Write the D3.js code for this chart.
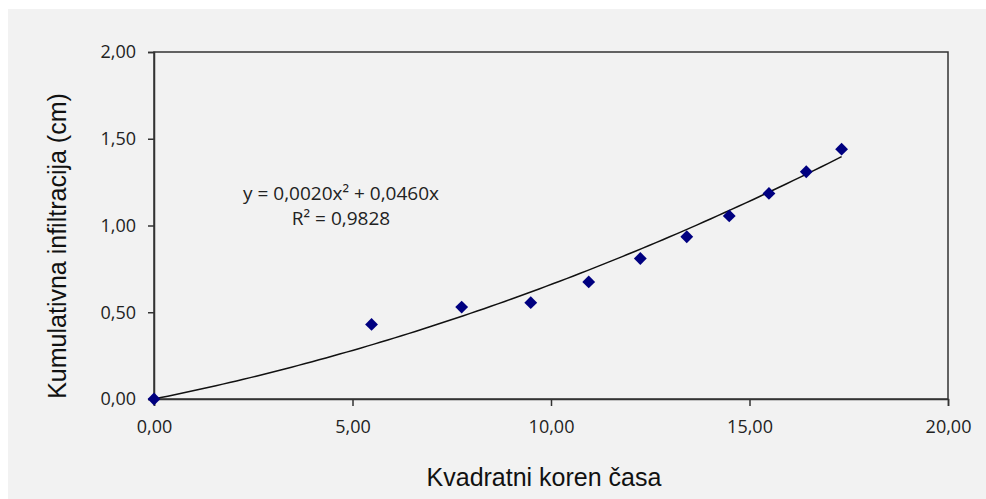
<!DOCTYPE html>
<html>
<head>
<meta charset="utf-8">
<script src="https://cdn.jsdelivr.net/npm/d3@7"></script>
<style>
  body { margin: 0; background: #fff; }
  svg { display: block; }
</style>
</head>
<body>
<div id="chart"></div>
<script>
// podaci (ocitani sa slike)
const xValues = [0, 5.48, 7.75, 9.49, 10.95, 12.25, 13.42, 14.49, 15.49, 16.43, 17.32];
const yValues = [0, 0.43, 0.53, 0.555, 0.675, 0.81, 0.935, 1.055, 1.185, 1.31, 1.44];
const trendCoef = [0.0020, 0.0460]; // y = a*x^2 + b*x
const xTicks = [0, 5, 10, 15, 20];
const yTicks = [0, 0.5, 1, 1.5, 2];
const eqLines = ["y = 0,0020x² + 0,0460x", "R² = 0,9828"];

const W = 986, H = 499;
const margin = { top: 52, right: 38, bottom: 100, left: 154 },
      width = W - margin.left - margin.right,
      height = H - margin.top - margin.bottom;

const root = d3.select("#chart").append("svg")
  .attr("width", W)
  .attr("height", H);

// siva pozadina
root.append("rect")
  .attr("x", 8).attr("y", 9)
  .attr("width", W - 8).attr("height", H - 9)
  .attr("fill", "#f2f2f2");

const svg = root.append("g")
  .attr("transform", `translate(${margin.left},${margin.top})`);

const x = d3.scaleLinear().domain([0, 20]).range([0, width]);
const y = d3.scaleLinear().domain([0, 2]).range([height, 0]);
const fmt = d => d3.format(".2f")(d).replace(".", ",");

// okvir
svg.append("rect")
  .attr("width", width).attr("height", height)
  .attr("fill", "none")
  .attr("stroke", "#333")
  .attr("stroke-width", 1.5);

// X osa
const gx = svg.append("g")
  .attr("transform", `translate(0,${height})`)
  .call(d3.axisBottom(x).tickValues(xTicks).tickFormat(fmt).tickSize(7).tickPadding(14));

// Y osa
const gy = svg.append("g")
  .call(d3.axisLeft(y).tickValues(yTicks).tickFormat(fmt).tickSize(6).tickPadding(12));

[gx, gy].forEach(g => {
  g.select(".domain").attr("stroke", "#333").attr("stroke-width", 1.5);
  g.selectAll(".tick line").attr("stroke", "#333").attr("stroke-width", 1.5);
  g.selectAll(".tick text")
    .attr("fill", "#222")
    .style("font-family", "'Open Sans', 'DejaVu Sans', sans-serif")
    .style("font-size", "18px");
});

// linija trenda
const xMax = d3.max(xValues);
const trendPts = d3.range(0, 101).map(i => {
  const xv = xMax * i / 100;
  return [xv, trendCoef[0] * xv * xv + trendCoef[1] * xv];
});
svg.append("path")
  .datum(trendPts)
  .attr("fill", "none")
  .attr("stroke", "#111")
  .attr("stroke-width", 1.5)
  .attr("d", d3.line().x(d => x(d[0])).y(d => y(d[1])));

// tacke (rombovi)
const data = xValues.map((v, i) => ({ x: v, y: yValues[i] }));
svg.selectAll(".pt")
  .data(data)
  .enter()
  .append("path")
  .attr("class", "pt")
  .attr("d", d3.symbol().type(d3.symbolDiamond2).size(105))
  .attr("transform", d => `translate(${x(d.x)},${y(d.y)})`)
  .attr("fill", "#000080");

// jednacina
svg.selectAll(".eq")
  .data(eqLines)
  .enter()
  .append("text")
  .attr("class", "eq")
  .attr("x", 341 - margin.left)
  .attr("y", (d, i) => 200 - margin.top + i * 25)
  .attr("text-anchor", "middle")
  .attr("fill", "#222")
  .style("font-family", "'Open Sans', 'DejaVu Sans', sans-serif")
  .style("font-size", "19px")
  .text(d => d);

// naslovi osa
root.append("text")
  .attr("x", 544).attr("y", 486)
  .attr("text-anchor", "middle")
  .attr("fill", "#111")
  .style("font-family", "'Liberation Sans', Arial, sans-serif")
  .style("font-size", "25px")
  .text("Kvadratni koren časa");

root.append("text")
  .attr("transform", "translate(66,246) rotate(-90)")
  .attr("text-anchor", "middle")
  .attr("fill", "#111")
  .style("font-family", "'Liberation Sans', Arial, sans-serif")
  .style("font-size", "25px")
  .text("Kumulativna infiltracija (cm)");
</script>
</body>
</html>
